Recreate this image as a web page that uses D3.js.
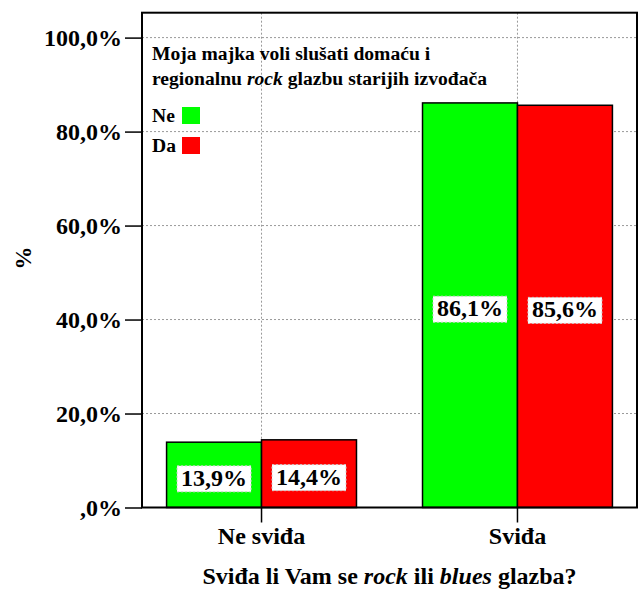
<!DOCTYPE html>
<html>
<head>
<meta charset="utf-8">
<script src="https://cdn.jsdelivr.net/npm/d3@7"></script>
<style>
  body { margin: 0; background: #fff; }
  text { font-family: "Liberation Serif", "Times New Roman", serif; font-weight: bold; fill: #000; }
</style>
</head>
<body>
<svg id="chart"></svg>
<script>
// data
var categories = ["Ne sviđa", "Sviđa"];
var groups = ["Ne", "Da"];
var valuesNe = [13.9, 86.1];
var valuesDa = [14.4, 85.6];
var colors = ["#00ff00", "#ff0000"];
var yTicks = [0, 20, 40, 60, 80, 100];
var yTickLabels = [",0%", "20,0%", "40,0%", "60,0%", "80,0%", "100,0%"];

var width = 638, height = 592;
var plot = { left: 142, top: 12.7, right: 637, bottom: 507.5 };

var svg = d3.select("#chart")
    .attr("width", width)
    .attr("height", height);

var fmt = d3.formatLocale({ decimal: ",", thousands: ".", grouping: [3], currency: ["", ""] }).format(".1f");

var y = d3.scaleLinear()
    .domain([0, 105.3])
    .range([plot.bottom, plot.top]);

var x0 = d3.scaleBand()
    .domain(categories)
    .range([plot.left, plot.right])
    .paddingInner(0.258)
    .paddingOuter(0.096);

var x1 = d3.scaleBand()
    .domain(groups)
    .range([0, x0.bandwidth()])
    .padding(0);

// grid
svg.append("g")
    .selectAll("line.hgrid")
    .data(yTicks)
    .enter().append("line")
    .attr("class", "hgrid")
    .attr("x1", plot.left).attr("x2", plot.right)
    .attr("y1", (d) => y(d)).attr("y2", (d) => y(d))
    .attr("stroke", "#999").attr("stroke-width", 1)
    .attr("stroke-dasharray", "2,2");

svg.append("g")
    .selectAll("line.vgrid")
    .data(categories)
    .enter().append("line")
    .attr("class", "vgrid")
    .attr("x1", (d) => x0(d) + x0.bandwidth() / 2)
    .attr("x2", (d) => x0(d) + x0.bandwidth() / 2)
    .attr("y1", plot.top).attr("y2", plot.bottom)
    .attr("stroke", "#999").attr("stroke-width", 1)
    .attr("stroke-dasharray", "2,2");

// bars
var rows = categories.map((c, i) => ({ cat: c, vals: [valuesNe[i], valuesDa[i]] }));

var cat = svg.selectAll("g.cat")
    .data(rows)
    .enter().append("g")
    .attr("class", "cat")
    .attr("transform", (d) => "translate(" + x0(d.cat) + ",0)");

var bar = cat.selectAll("g.bar")
    .data((d) => d.vals.map((v, j) => ({ g: groups[j], v: v, c: colors[j] })))
    .enter().append("g")
    .attr("class", "bar");

bar.append("rect")
    .attr("x", (d) => x1(d.g))
    .attr("y", (d) => y(d.v))
    .attr("width", x1.bandwidth())
    .attr("height", (d) => y(0) - y(d.v))
    .attr("fill", (d) => d.c)
    .attr("stroke", "#000")
    .attr("stroke-width", 1.5);

// value labels with white boxes
bar.each(function(d) {
    var g = d3.select(this);
    var cx = x1(d.g) + x1.bandwidth() / 2;
    var cy = (y(d.v) + y(0)) / 2 + 3;
    var t = g.append("text")
        .attr("x", cx)
        .attr("y", cy)
        .attr("text-anchor", "middle")
        .attr("dominant-baseline", "central")
        .style("font-size", "24px")
        .text(fmt(d.v) + "%");
    var bb = t.node().getBBox();
    g.insert("rect", "text")
        .attr("x", bb.x - 4)
        .attr("y", bb.y + 1)
        .attr("width", bb.width + 8)
        .attr("height", bb.height)
        .attr("fill", "#fff")
        .attr("stroke", "#ccc")
        .attr("stroke-width", 1)
        .attr("stroke-dasharray", "2,2");
});

// plot frame
svg.append("rect")
    .attr("x", plot.left).attr("y", plot.top)
    .attr("width", plot.right - plot.left)
    .attr("height", plot.bottom - plot.top)
    .attr("fill", "none")
    .attr("stroke", "#000")
    .attr("stroke-width", 2);

// y axis
var yAxis = d3.axisLeft(y)
    .tickValues(yTicks)
    .tickSize(17)
    .tickPadding(3)
    .tickFormat((d, i) => yTickLabels[i]);

var ya = svg.append("g")
    .attr("transform", "translate(" + plot.left + ",0)")
    .call(yAxis);
ya.select(".domain").remove();
ya.selectAll(".tick line").attr("stroke", "#000").attr("stroke-width", 1.5);
ya.selectAll(".tick text")
    .style("font-size", "24px")
    .style("font-family", "Liberation Serif")
    .style("font-weight", "bold")
    .attr("fill", "#000");

// x axis
var xAxis = d3.axisBottom(x0)
    .tickSize(15)
    .tickPadding(4);

var xa = svg.append("g")
    .attr("transform", "translate(0," + plot.bottom + ")")
    .call(xAxis);
xa.select(".domain").remove();
xa.selectAll(".tick line").attr("stroke", "#000").attr("stroke-width", 1.5);
xa.selectAll(".tick text")
    .style("font-size", "24px")
    .style("font-family", "Liberation Serif")
    .style("font-weight", "bold")
    .attr("fill", "#000");

// axis titles
var xt = svg.append("text")
    .attr("x", (plot.left + plot.right) / 2)
    .attr("y", 584)
    .attr("text-anchor", "middle")
    .style("font-size", "24px");
xt.append("tspan").text("Sviđa li Vam se ");
xt.append("tspan").style("font-style", "italic").text("rock");
xt.append("tspan").text(" ili ");
xt.append("tspan").style("font-style", "italic").text("blues");
xt.append("tspan").text(" glazba?");

svg.append("text")
    .attr("transform", "translate(31,258) rotate(-90)")
    .attr("text-anchor", "middle")
    .style("font-size", "23px")
    .text("%");

// legend
var legend = svg.append("g");
legend.append("text")
    .attr("x", 152).attr("y", 60)
    .style("font-size", "19.6px")
    .text("Moja majka voli slušati domaću i");
var l2 = legend.append("text")
    .attr("x", 152).attr("y", 85)
    .style("font-size", "19.6px");
l2.append("tspan").text("regionalnu ");
l2.append("tspan").style("font-style", "italic").text("rock");
l2.append("tspan").text(" glazbu starijih izvođača");

var items = legend.selectAll("g.item")
    .data(groups)
    .enter().append("g")
    .attr("class", "item")
    .attr("transform", (d, i) => "translate(152," + (122 + i * 30) + ")");
items.append("text")
    .attr("x", 0).attr("y", 0)
    .style("font-size", "19.6px")
    .text((d) => d);
items.append("rect")
    .attr("x", 30).attr("y", -15)
    .attr("width", 18).attr("height", 17)
    .attr("fill", (d, i) => colors[i]);
</script>
</body>
</html>
